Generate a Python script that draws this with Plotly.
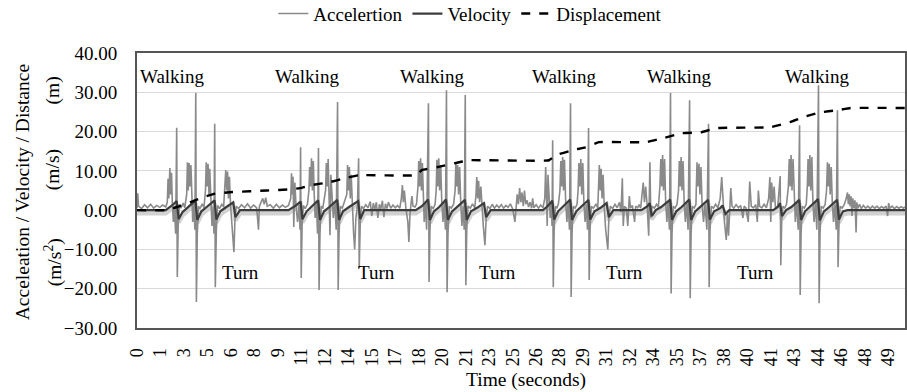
import plotly.graph_objects as go

# ---------------- data ----------------
tick_labels = ["0", "1", "3", "5", "6", "8", "9", "11", "12", "14", "15", "17", "18",
               "20", "21", "23", "25", "26", "28", "29", "31", "32", "34", "35", "37",
               "38", "40", "41", "43", "44", "46", "48", "49"]
tick_step_seconds = 1.55
x_end_seconds = 50.7

accel_bout1 = [
    (0.0, 0.5), (0.05, 4.3), (0.1, 1.0), (0.3, 0.4), (0.5, 1.4), (0.7, 0.6), (0.9, 1.5),
    (1.1, 0.5), (1.3, 1.2), (1.5, 0.7), (1.7, 1.3), (1.9, 0.8),
    (2.0, 2.0), (2.05, 8.0), (2.1, 3.0), (2.17, 10.7), (2.22, 4.0), (2.28, 9.5), (2.33, 2.0),
    (2.4, -3.0), (2.47, 1.0), (2.55, -6.0), (2.62, 21.0), (2.66, -17.0), (2.72, -4.0),
    (2.8, 1.5), (2.9, 0.5), (3.05, 1.8), (3.15, 0.6),
    (3.28, 4.0), (3.33, 12.2), (3.38, 5.0), (3.44, 12.0), (3.5, 6.0), (3.56, 11.5), (3.62, 3.0),
    (3.68, -3.0), (3.75, 2.0), (3.82, -5.0), (3.88, 29.8), (3.92, -23.4), (3.98, -6.0),
    (4.06, 1.0), (4.15, 0.3), (4.3, 1.6), (4.42, 0.6),
    (4.52, 5.0), (4.57, 12.2), (4.63, 6.0), (4.69, 11.8), (4.75, 4.0), (4.8, 10.5), (4.88, 2.0),
    (4.95, -4.0), (5.03, 1.0), (5.08, -6.0), (5.13, 22.0), (5.17, -19.6), (5.24, -5.0),
    (5.32, 1.2), (5.45, 0.4), (5.6, 1.5), (5.72, 0.8),
    (5.8, 6.0), (5.86, 10.2), (5.92, 5.0), (5.98, 9.8), (6.04, 3.0), (6.1, 8.5), (6.18, 1.0),
    (6.26, -4.0), (6.32, -8.0), (6.4, -10.7), (6.46, -3.0), (6.55, 1.0), (6.7, 0.4),
    (6.9, 1.4), (7.1, 0.6), (7.3, 1.6), (7.5, 0.5), (7.7, 1.3), (7.9, 0.6), (8.02, -5.0),
    (8.08, 1.0), (8.3, 3.0), (8.4, 1.5), (8.5, 3.2), (8.6, 1.0), (8.8, 1.4), (9.0, 0.5),
    (9.2, 1.5), (9.4, 0.6), (9.6, 1.3), (9.8, 0.7), (10.0, 1.2),
]
accel_bout2 = [
    (10.15, 3.0), (10.2, 9.4), (10.25, 4.0), (10.3, 8.5), (10.35, -4.3), (10.42, 7.0),
    (10.5, 1.0), (10.6, -3.0), (10.7, 1.5), (10.76, -5.0), (10.8, 16.0), (10.84, -17.3),
    (10.9, -4.0), (10.98, 1.2), (11.1, 0.4), (11.25, 1.5),
    (11.35, 5.0), (11.4, 11.0), (11.46, 6.0), (11.52, 13.2), (11.58, 5.0), (11.64, 12.5),
    (11.7, 4.0), (11.76, -2.0), (11.84, 2.0), (11.92, -6.0), (11.98, 15.8), (12.02, -20.3),
    (12.08, -6.0), (12.16, 1.0), (12.26, 0.4),
    (12.45, 5.0), (12.5, 12.0), (12.56, 6.0), (12.62, 13.0), (12.68, 4.0), (12.74, -6.4),
    (12.8, 9.0), (12.88, 2.0), (12.96, -2.0), (13.05, 2.0), (13.15, -5.0), (13.24, 27.5),
    (13.28, -20.3), (13.34, -6.0), (13.42, 1.0), (13.55, 0.5),
    (13.85, 4.0), (13.9, 11.5), (13.96, 5.0), (14.02, 11.0), (14.08, 3.0), (14.14, 9.0),
    (14.22, 0.5), (14.3, -6.0), (14.37, -10.0), (14.45, -2.0), (14.55, 1.0), (14.63, 13.2),
    (14.67, -14.8), (14.74, -3.0), (14.82, 1.0), (14.95, 0.4), (15.1, 1.4), (15.25, 0.6),
    (15.4, 2.2), (15.5, -1.5), (15.6, 1.8), (15.7, 0.2), (15.8, 2.0), (15.9, -2.0),
    (16.0, 1.5), (16.1, 0.3), (16.2, 2.4), (16.3, -1.8), (16.4, 1.6), (16.5, 0.4),
    (16.6, 2.0), (16.75, 0.5), (16.9, 1.3), (17.05, 0.6), (17.2, 1.2), (17.35, 0.5),
]
accel_bout3 = [
    (17.45, 3.0), (17.52, 6.4), (17.58, 2.0), (17.65, 5.0), (17.75, 0.5), (17.88, -3.0),
    (17.95, -8.1), (18.02, -1.0), (18.1, 2.0), (18.15, 3.6), (18.22, 1.0), (18.35, 0.8),
    (18.45, 1.5),
    (18.55, 6.0), (18.6, 12.5), (18.66, 6.0), (18.72, 13.2), (18.78, 5.0), (18.84, 12.0),
    (18.9, 3.0), (18.96, -3.0), (19.04, 2.0), (19.12, -5.0), (19.24, 27.2), (19.28, -18.3),
    (19.34, -5.0), (19.42, 1.0), (19.55, 0.4), (19.68, 1.5),
    (19.75, 5.0), (19.8, 12.8), (19.86, 6.0), (19.92, 13.2), (19.98, 5.0), (20.05, 11.5),
    (20.12, 2.0), (20.2, -3.0), (20.28, 2.0), (20.36, -5.0), (20.43, 30.5), (20.47, -20.9),
    (20.53, -6.0), (20.62, 1.0), (20.75, 0.5), (20.9, 1.5),
    (21.0, 5.0), (21.05, 12.0), (21.11, 6.0), (21.17, 11.5), (21.23, 4.0), (21.3, 11.0),
    (21.37, 2.0), (21.45, -4.0), (21.53, 1.0), (21.6, -5.0), (21.67, 29.3), (21.71, -19.1),
    (21.77, -5.0), (21.85, 1.0), (22.0, 0.5), (22.15, 1.6), (22.3, 0.6),
    (22.38, 4.0), (22.43, 8.4), (22.49, 3.0), (22.55, 7.5), (22.62, 2.0), (22.7, 6.0),
    (22.78, 0.5), (22.86, -4.0), (22.97, -8.9), (23.05, -2.0), (23.15, 1.0), (23.3, 0.4),
    (23.45, 1.5), (23.6, 0.5), (23.75, 1.3), (23.9, 0.6), (24.05, 1.4), (24.2, 0.5),
    (24.35, 1.2), (24.5, 0.7), (24.65, 1.6), (24.8, 0.3), (24.95, -3.0), (25.02, 1.0),
    (25.1, 4.0), (25.18, 1.5), (25.26, 5.6), (25.34, 2.0), (25.42, 4.5), (25.5, 1.0),
    (25.58, 5.0), (25.66, 1.5), (25.75, 2.5), (25.85, 0.8), (25.95, 2.0), (26.05, 0.5),
    (26.12, 3.0), (26.2, 0.6), (26.35, 1.4), (26.5, 0.5), (26.65, 1.3), (26.8, 0.6),
]
accel_bout4 = [
    (26.92, 3.0), (26.98, 11.0), (27.03, 4.0), (27.08, -4.0), (27.13, 9.0), (27.2, 2.0),
    (27.28, -2.0), (27.35, 2.0), (27.4, -4.0), (27.44, 17.8), (27.48, -19.6), (27.54, -5.0),
    (27.62, 1.0), (27.72, 0.5), (27.82, 1.6),
    (27.92, 5.0), (27.98, 12.5), (28.04, 6.0), (28.1, 13.5), (28.16, 5.0), (28.22, 12.8),
    (28.3, 2.0), (28.38, -3.0), (28.46, 2.0), (28.55, -5.0), (28.62, 27.2), (28.66, -22.1),
    (28.72, -6.0), (28.8, 1.0), (28.92, 0.5), (29.05, 1.5),
    (29.12, 5.0), (29.17, 12.0), (29.23, 6.0), (29.3, 13.0), (29.36, 4.0), (29.43, 12.0),
    (29.5, 2.0), (29.58, -3.0), (29.66, 1.5), (29.74, -5.0), (29.81, 20.9), (29.85, -17.8),
    (29.91, -5.0), (29.99, 1.0), (30.12, 0.5), (30.3, 1.5), (30.42, 0.6),
    (30.46, 5.0), (30.52, 11.5), (30.58, 5.0), (30.64, 10.5), (30.7, 3.0), (30.77, 9.0),
    (30.85, 0.5), (30.94, -5.0), (31.08, -10.0), (31.15, -2.0), (31.25, 1.0), (31.4, 0.4),
    (31.55, 1.5), (31.7, 0.6), (31.85, 2.0), (31.95, -0.5), (32.04, 8.1), (32.1, -4.0),
    (32.18, 1.0), (32.3, 0.5), (32.4, -4.0), (32.5, 3.6), (32.58, 0.5), (32.7, 1.2),
    (32.85, -3.0), (32.92, 1.0), (33.05, 0.6), (33.15, 1.4), (33.25, 0.5),
]
accel_bout5 = [
    (33.35, 4.0), (33.42, 7.0), (33.5, 2.0), (33.58, 6.0), (33.68, 1.0), (33.78, -6.5),
    (33.86, 12.2), (33.92, -2.0), (34.0, 1.0), (34.15, 0.5), (34.3, 1.5), (34.42, 0.8),
    (34.52, 6.0), (34.58, 13.0), (34.64, 6.0), (34.7, 14.0), (34.76, 5.0), (34.83, 13.0),
    (34.9, 2.0), (34.98, -3.0), (35.06, 2.0), (35.15, -5.0), (35.22, 29.8), (35.26, -21.2),
    (35.32, -6.0), (35.4, 1.0), (35.52, 0.5), (35.65, 1.5),
    (35.75, 5.0), (35.8, 12.5), (35.86, 6.0), (35.92, 13.5), (35.98, 5.0), (36.05, 12.5),
    (36.12, 2.0), (36.2, -3.0), (36.28, 2.0), (36.38, -5.0), (36.48, 28.0), (36.52, -22.4),
    (36.58, -6.0), (36.66, 1.0), (36.78, 0.5), (36.9, 1.5),
    (36.92, 5.0), (36.97, 12.2), (37.03, 6.0), (37.1, 11.8), (37.16, 4.0), (37.23, 11.0),
    (37.3, 2.0), (37.4, -3.0), (37.5, 1.5), (37.62, -5.0), (37.73, 22.0), (37.77, -19.6),
    (37.83, -5.0), (37.92, 1.0), (38.05, 0.5), (38.2, 1.5), (38.35, 0.6), (38.5, 3.0),
    (38.6, 8.4), (38.68, 2.0), (38.78, -3.0), (38.9, -7.6), (38.98, -1.0), (39.05, -6.5),
    (39.12, 1.0), (39.2, 5.6), (39.28, 1.0), (39.4, 0.5), (39.55, 1.4), (39.7, 0.6),
    (39.85, 1.2), (40.0, -2.0), (40.08, 1.0), (40.2, 0.6), (40.35, -3.0), (40.45, 7.3),
    (40.55, 1.0), (40.7, 0.6), (40.85, 1.4), (40.95, -3.0), (41.02, 5.0), (41.1, 1.0),
    (41.25, 0.6), (41.4, 1.5), (41.55, 0.6),
]
accel_bout6 = [
    (41.7, 3.0), (41.78, 8.4), (41.84, -3.0), (41.9, 7.0), (41.98, 2.0), (42.06, 6.0),
    (42.15, 0.5), (42.3, 1.0), (42.4, 5.0), (42.46, 8.7), (42.5, -14.0), (42.56, -3.0),
    (42.64, 1.0), (42.75, 0.5), (42.88, 1.5),
    (43.0, 6.0), (43.06, 13.0), (43.12, 6.0), (43.18, 14.0), (43.24, 5.0), (43.31, 13.0),
    (43.38, 2.0), (43.46, -3.0), (43.55, 2.0), (43.65, -5.0), (43.74, 21.6), (43.78, -21.6),
    (43.84, -6.0), (43.92, 1.0), (44.05, 0.5), (44.18, 1.5),
    (44.25, 6.0), (44.3, 13.0), (44.36, 6.0), (44.42, 14.0), (44.48, 5.0), (44.55, 13.5),
    (44.62, 2.0), (44.7, -3.0), (44.78, 2.0), (44.88, -5.0), (44.99, 31.8), (45.03, -23.7),
    (45.09, -6.0), (45.17, 1.0), (45.3, 0.5), (45.43, 1.5),
    (45.52, 5.0), (45.58, 12.2), (45.64, 6.0), (45.7, 11.8), (45.76, 4.0), (45.83, 11.0),
    (45.9, 2.0), (45.98, -3.0), (46.06, 1.5), (46.16, -5.0), (46.24, 25.4), (46.28, -14.5),
    (46.34, -4.0), (46.42, 1.0), (46.55, 0.5), (46.7, 1.5),
    (46.82, 3.0), (46.9, 4.5), (46.96, 1.5), (47.02, 4.0), (47.08, 1.0), (47.14, 3.5),
    (47.2, -1.5), (47.26, 3.0), (47.32, 0.5), (47.4, 2.5), (47.47, -5.7), (47.52, 2.0),
    (47.6, 0.5), (47.7, 1.5), (47.82, 0.4), (47.95, 1.2), (48.1, 0.5), (48.25, 1.0),
    (48.4, 0.4), (48.55, 1.0), (48.7, 0.5), (48.85, 1.0), (49.0, 0.4), (49.15, 0.9),
    (49.3, 0.5), (49.45, 1.0), (49.55, -1.5), (49.62, 1.8), (49.7, 0.5), (49.85, 1.0),
    (50.0, 0.4), (50.15, 0.9), (50.3, 0.5), (50.45, 0.9), (50.6, 0.5), (50.7, 0.8),
]

velocity_points = [
    (0, 0), (1.9, 0), (2.4, 1.5), (2.62, 2.3), (2.75, -2.3), (3.0, -0.5), (3.3, 0.5),
    (3.86, 2.5), (3.98, -2.5), (4.25, -0.3), (4.6, 0.8), (5.12, 2.5), (5.24, -2.4),
    (5.5, -0.3), (5.9, 0.8), (6.35, 2.0), (6.5, -1.8), (6.8, 0), (10.0, 0), (10.5, 1.2),
    (10.8, 2.2), (10.92, -2.3), (11.2, -0.3), (11.5, 0.8), (11.96, 2.5), (12.08, -2.5),
    (12.35, -0.3), (12.7, 0.8), (13.22, 2.6), (13.34, -2.5), (13.6, -0.3), (14.0, 0.8),
    (14.6, 2.3), (14.74, -2.3), (15.0, 0), (18.4, 0), (18.8, 1.0), (19.22, 2.7),
    (19.34, -2.5), (19.6, -0.3), (19.95, 0.8), (20.4, 2.7), (20.52, -2.5), (20.8, -0.3),
    (21.15, 0.8), (21.65, 2.6), (21.77, -2.5), (22.05, -0.3), (22.45, 0.6), (22.9, 1.8),
    (23.05, -1.8), (23.35, 0), (26.8, 0), (27.1, 1.0), (27.42, 2.4), (27.54, -2.4),
    (27.8, -0.3), (28.1, 0.8), (28.6, 2.7), (28.72, -2.5), (29.0, -0.3), (29.3, 0.8),
    (29.8, 2.6), (29.92, -2.4), (30.2, -0.3), (30.6, 0.6), (31.0, 1.8), (31.15, -1.8),
    (31.45, 0), (33.3, 0), (33.7, 1.0), (33.85, 1.8), (33.98, -1.5), (34.25, 0),
    (34.6, 0.8), (35.2, 2.7), (35.32, -2.5), (35.6, -0.3), (35.95, 0.8), (36.46, 2.7),
    (36.58, -2.5), (36.85, -0.3), (37.15, 0.8), (37.7, 2.6), (37.82, -2.4), (38.1, -0.3),
    (38.5, 0.5), (38.65, 1.2), (38.85, -1.0), (39.1, 0), (42.0, 0), (42.3, 0.8),
    (42.45, 1.8), (42.58, -1.5), (42.85, 0), (43.2, 0.8), (43.72, 2.6), (43.84, -2.5),
    (44.1, -0.3), (44.4, 0.8), (44.96, 2.8), (45.08, -2.6), (45.35, -0.3), (45.7, 0.8),
    (46.22, 2.6), (46.34, -2.4), (46.6, -0.3), (46.9, 0), (50.7, 0),
]

displacement_points = [
    (0, 0), (1.85, 0), (2.64, 0.8), (3.5, 2.0), (4.16, 3.0), (5.15, 4.2), (6.3, 4.6),
    (8.6, 5.0), (10.1, 5.3), (10.76, 5.6), (11.55, 6.4), (12.7, 7.1), (13.7, 8.1),
    (14.65, 8.9), (18.4, 8.9), (18.8, 10.2), (19.9, 11.0), (21.05, 12.0), (21.9, 12.7),
    (27.2, 12.7), (27.65, 14.0), (28.8, 15.3), (29.6, 16.0), (30.5, 17.3), (33.6, 17.3),
    (34.7, 18.3), (36.0, 19.6), (37.2, 19.8), (38.3, 20.9), (41.8, 21.1), (43.1, 22.4),
    (44.0, 23.7), (45.1, 24.9), (46.2, 25.4), (47.1, 26.0), (50.7, 26.0),
]

walking_label_times = [2.3, 11.2, 19.5, 28.2, 35.8, 44.9]
walking_label_value = 34.1
turn_label_times = [6.8, 15.8, 23.8, 32.2, 40.8]
turn_label_value = -15.8

# ---------------- figure ----------------
accel = accel_bout1 + accel_bout2 + accel_bout3 + accel_bout4 + accel_bout5 + accel_bout6
FONT = "Liberation Serif, Times New Roman, serif"
Y_RANGE = [-30, 40]
SHADOW_SHIFT = 0.8  # style: drop-shadow offset of the velocity line, in axis units

fig = go.Figure()
# soft drop shadow under the velocity line (same data, drawn on an offset hidden axis)
fig.add_trace(go.Scatter(
    x=[p[0] for p in velocity_points], y=[p[1] for p in velocity_points], mode="lines",
    yaxis="y", showlegend=False, hoverinfo="skip",
    line=dict(color="#d2d2d2", width=4.5)))
fig.add_trace(go.Scatter(
    x=[p[0] for p in accel], y=[p[1] for p in accel], mode="lines", yaxis="y2",
    name="Accelertion", line=dict(color="#8a8a8a", width=1.6)))
fig.add_trace(go.Scatter(
    x=[p[0] for p in velocity_points], y=[p[1] for p in velocity_points], mode="lines",
    yaxis="y2", name="Velocity", line=dict(color="#3c3c3c", width=2.2)))
fig.add_trace(go.Scatter(
    x=[p[0] for p in displacement_points], y=[p[1] for p in displacement_points],
    mode="lines", yaxis="y2", name="Displacement",
    line=dict(color="#000000", width=2.4, dash="dash", shape="spline", smoothing=0.3)))

tickvals = [i * tick_step_seconds for i in range(len(tick_labels))]

fig.update_layout(
    width=907, height=392,
    margin=dict(l=137, r=2, t=53, b=64, autoexpand=False),
    paper_bgcolor="white", plot_bgcolor="white",
    font=dict(family=FONT, size=19, color="#000000"),
    showlegend=True,
    legend=dict(orientation="h", x=0.434, xanchor="center", y=1.212, yanchor="top",
                font=dict(family=FONT, size=19), bgcolor="rgba(0,0,0,0)"),
    xaxis=dict(range=[0, x_end_seconds], tickmode="array", tickvals=tickvals,
               ticktext=tick_labels, tickangle=-90, showgrid=False, zeroline=False,
               showline=True, linecolor="#555555", linewidth=2, mirror=True,
               ticks="outside", ticklen=11, tickcolor="rgba(0,0,0,0)", automargin=False,
               tickfont=dict(family=FONT, size=18)),
    yaxis=dict(range=[Y_RANGE[0] + SHADOW_SHIFT, Y_RANGE[1] + SHADOW_SHIFT],
               showgrid=False, zeroline=False, showticklabels=False, showline=False,
               automargin=False),
    yaxis2=dict(range=Y_RANGE, overlaying="y", side="left", tickmode="array",
                tickvals=[-30, -20, -10, 0, 10, 20, 30, 40],
                tickformat=".2f", showgrid=True, gridcolor="#d9d9d9", gridwidth=1,
                zeroline=False, showline=True, linecolor="#555555", linewidth=2, mirror=True,
                ticks="outside", ticklen=14, tickcolor="rgba(0,0,0,0)", automargin=False,
                tickfont=dict(family=FONT, size=19)),
)

for t in walking_label_times:
    fig.add_annotation(x=t, y=walking_label_value, yref="y2", text="Walking", showarrow=False,
                       xanchor="center", yanchor="middle", font=dict(family=FONT, size=19))
for t in turn_label_times:
    fig.add_annotation(x=t, y=turn_label_value, yref="y2", text="Turn", showarrow=False,
                       xanchor="center", yanchor="middle", font=dict(family=FONT, size=19))

# axis titles
title_font = dict(family=FONT, size=19.5)
fig.add_annotation(xref="paper", yref="paper", x=-0.148, y=0.495, textangle=-90,
                   xanchor="center", yanchor="middle",
                   text="Acceleation / Velocity / Distance", showarrow=False, font=title_font)
fig.add_annotation(xref="paper", yref="paper", x=-0.109, y=0.865, textangle=-90,
                   xanchor="center", yanchor="middle",
                   text="(m)", showarrow=False, font=title_font)
fig.add_annotation(xref="paper", yref="paper", x=-0.109, y=0.575, textangle=-90,
                   xanchor="center", yanchor="middle",
                   text="(m/s)", showarrow=False, font=title_font)
fig.add_annotation(xref="paper", yref="paper", x=-0.109, y=0.24, textangle=-90,
                   xanchor="center", yanchor="middle",
                   text="(m/s<sup>2</sup>)", showarrow=False, font=title_font)
fig.add_annotation(xref="paper", yref="paper", x=0.506, y=-0.189,
                   xanchor="center", yanchor="middle",
                   text="Time (seconds)", showarrow=False, font=title_font)

fig.write_html("out.html", config={"displayModeBar": False},
               post_script="document.body.style.margin='0';")
